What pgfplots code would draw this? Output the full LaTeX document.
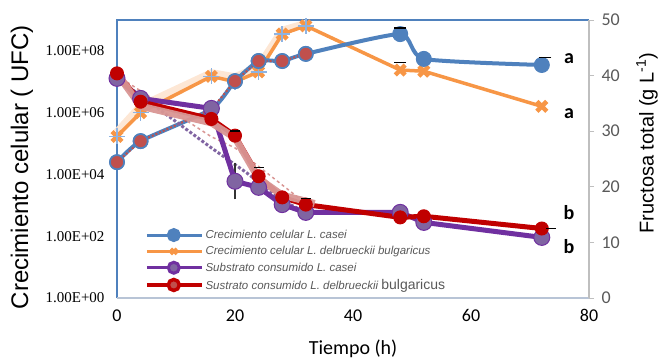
\documentclass[border=0pt]{standalone}
\usepackage{pgfplots}
\pgfplotsset{compat=1.18}
\usepackage{fontspec}
\setmainfont{Liberation Sans}
\newfontfamily\carlito{Carlito}
\newfontfamily\serifnum{Liberation Serif}
\definecolor{cblue}{HTML}{4F81BD}
\definecolor{corange}{HTML}{F79646}
\definecolor{cpurple}{HTML}{7030A0}
\definecolor{cpurplefill}{HTML}{8064A2}
\definecolor{cred}{HTML}{C00000}
\definecolor{cred2}{HTML}{C0504D}
\definecolor{cpink}{HTML}{D99694}
\definecolor{cpeach}{HTML}{FDE4D0}
\definecolor{clblue}{HTML}{8DB3E2}
\definecolor{cgray}{HTML}{595959}
\definecolor{caxisgray}{HTML}{BFBFBF}
\definecolor{cbottom}{HTML}{B8C4D6}

\pgfplotstableread{
t v
0 2.5e4
4 1.2e5
16 1.3e6
20 1.05e7
24 4.7e7
28 4.7e7
32 8e7
48 3.5e8
52 5.5e7
72 3.5e7
}\casei
\pgfplotstableread{
t v
0 2.5e4
4 1.2e5
16 1.3e6
20 1.05e7
24 4.7e7
28 4.7e7
32 8e7
}\caseiearly
\pgfplotstableread{
t v
0 1.7e5
4 1.0e6
16 1.5e7
20 1.0e7
24 2.1e7
28 3.5e8
32 6.5e8
48 2.4e7
52 2.2e7
72 1.6e6
}\bulg
\pgfplotstableread{
t v
0 1.7e5
4 1.0e6
16 1.5e7
20 1.0e7
24 2.1e7
28 3.5e8
32 6.5e8
}\bulgearly
\pgfplotstableread{
t v
0 2.3e5
4 1.6e6
16 1.9e7
20 1.4e7
24 3.0e7
28 4.5e8
32 7.5e8
}\peach
\pgfplotstableread{
t v
0 39.5
4 35.9
16 34.1
20 21.0
24 19.9
28 16.8
32 15.4
48 15.4
52 13.6
72 10.9
}\subcasei
\pgfplotstableread{
t v
0 40.4
4 35.3
16 32.2
20 29.2
24 21.9
28 18.1
32 16.8
48 14.5
52 14.7
72 12.5
}\subbulg
\pgfplotstableread{
t v
0 40.4
4 34.5
16 31.5
20 28.8
24 21.5
28 18.5
33.5 17.0
}\pinkline
\pgfplotstableread{
t v
0 39.5
9 32.5
16 27.0
22 22.5
28 17.5
32 15.4
}\purpledots
\pgfplotstableread{
t v
0 40.0
16 29.0
20 27.0
32 17.0
}\pinkdash

\begin{document}
\begin{tikzpicture}[x=1pt,y=1pt]
\useasboundingbox (0,0) rectangle (660,360);
% left axis: cell growth (log)
\begin{axis}[
  at={(117pt,62pt)}, anchor=south west,
  scale only axis, width=472pt, height=278pt,
  xmin=0, xmax=80, ymode=log, ymin=1, ymax=1e9,
  xtick={0,20,40,60,80}, xticklabels={0,20,40,60,80},
  ytick={1,1e2,1e4,1e6,1e8},
  yticklabels={1.00E+00,1.00E+02,1.00E+04,1.00E+06,1.00E+08},
  yticklabel style={font=\serifnum\fontsize{15}{15}\selectfont, anchor=east, xshift=-9pt},
  xticklabel style={font=\carlito\fontsize{18}{18}\selectfont, anchor=north, yshift=-8pt},
  axis line style={draw=none},
  major tick length=0pt,
  clip=false,
]
% frame lines
\draw[cblue, line width=1.5pt] (rel axis cs:0,0) -- (rel axis cs:0,1) -- (rel axis cs:1,1);
\draw[cbottom, line width=1.5pt] (rel axis cs:0,0) -- (rel axis cs:1,0);
% peach overlay
\addplot[cpeach, line width=8pt, opacity=0.9, forget plot] table[x=t,y=v]{\peach};
% orange series
\addplot[corange, line width=3.5pt, mark=x, mark size=7pt, mark options={line width=4.5pt}, forget plot] table[x=t,y=v]{\bulg};
\addplot[only marks, clblue, mark=+, mark size=8pt, mark options={line width=1.5pt}, forget plot] table[x=t,y=v]{\bulgearly};
% blue series
\addplot[cblue, line width=4pt, smooth, tension=0.35, mark=*, mark size=7.5pt, mark options={fill=cblue, draw=cblue, line width=1pt}, forget plot] table[x=t,y=v]{\casei};
\addplot[cred2, line width=2pt, dotted, mark=*, mark size=7pt, mark options={solid, fill=cred2, draw=cblue, line width=1.5pt}, forget plot] table[x=t,y=v]{\caseiearly};
% error caps
\addplot[only marks, black, mark=-, mark size=6pt, mark options={line width=1.6pt}, forget plot]
  coordinates {(48,5.6e8) (72.6,6.1e7) (48,4.2e7)};
\end{axis}
% right axis: substrate
\begin{axis}[
  at={(117pt,62pt)}, anchor=south west,
  scale only axis, width=472pt, height=278pt,
  xmin=0, xmax=80, ymin=0, ymax=50,
  axis x line=none,
  axis y line*=right,
  y axis line style={caxisgray, line width=1.5pt},
  ytick={0,10,20,30,40,50},
  yticklabels={0,10,20,30,40,50},
  tick align=outside,
  major tick length=5pt,
  tick style={caxisgray, line width=1pt},
  yticklabel style={font=\carlito\fontsize{18}{18}\selectfont, text=cgray, xshift=4pt},
  clip=false,
  legend image code/.code={\draw[mark repeat=2, mark phase=2, #1] plot coordinates {(0pt,0pt) (27pt,0pt) (55pt,0pt)};},
  legend style={at={(0.059,0.252)}, anchor=north west, draw=none, fill=none,
    font=\itshape\fontsize{11.5}{12}\selectfont, text=cgray, row sep=2.5pt,
    inner xsep=0pt, inner ysep=0pt},
  legend cell align=left,
]
\addlegendimage{cblue, line width=3pt, mark=*, mark size=5.5pt, mark options={fill=cblue}}
\addlegendentry{Crecimiento celular L. casei}
\addlegendimage{corange, line width=3pt, mark=x, mark size=4pt, mark options={line width=3pt}}
\addlegendentry{Crecimiento celular L. delbrueckii bulgaricus}
\addlegendimage{cpurple, line width=3pt, mark=*, mark size=5.5pt, mark options={fill=cpurplefill, draw=cpurple}}
\addlegendentry{Substrato consumido L. casei}
\addlegendimage{cred, line width=3.5pt, mark=*, mark size=5.5pt, mark options={fill=cred2, draw=cred}}
\addlegendentry{Sustrato consumido L. delbrueckii {\upshape\fontsize{14}{14}\selectfont bulgaricus}}
% overlays
\addplot[cpurplefill, line width=3pt, dotted, forget plot] table[x=t,y=v]{\purpledots};
\addplot[cpink, line width=1.5pt, dashed, forget plot] table[x=t,y=v]{\pinkdash};
% error bars
\addplot[only marks, mark=none, forget plot, error bars/.cd, y dir=both, y explicit,
  error bar style={black!80, line width=1pt}, error mark options={black!80, mark size=5pt, line width=1.6pt}]
  table[x=t,y=v,y error=e]{
t v e
20 21.0 2.35
};
% purple series
\addplot[cpurple, line width=5pt, mark=*, mark size=8pt, mark options={fill=cpurplefill, draw=cpurple, line width=1pt}, forget plot] table[x=t,y=v]{\subcasei};
% red series
\addplot[cred, line width=5pt, mark=*, mark size=6.5pt, mark options={fill=cred, draw=cred, line width=1pt}, forget plot] table[x=t,y=v]{\subbulg};
% pink overlay
\addplot[cpink, line width=7pt, opacity=0.95, forget plot] table[x=t,y=v]{\pinkline};
% error caps
\addplot[only marks, black, mark=-, mark size=5pt, mark options={line width=1.6pt}, forget plot]
  coordinates {(20,30.0) (24,23.5) (32,17.9) (73.5,12.5)};
% letters
\node[font=\carlito\bfseries\fontsize{20}{20}\selectfont] at (axis cs:76.6,43.1) {a};
\node[font=\carlito\bfseries\fontsize{20}{20}\selectfont] at (axis cs:76.6,33.2) {a};
\node[font=\carlito\bfseries\fontsize{20}{20}\selectfont] at (axis cs:76.6,15.4) {b};
\node[font=\carlito\bfseries\fontsize{20}{20}\selectfont] at (axis cs:76.6,9.2) {b};
\end{axis}
% axis titles
\node[rotate=90, font=\fontsize{24}{24}\selectfont] at (22,193) {Crecimiento celular ( UFC)};
\node[rotate=90, font=\fontsize{20}{20}\selectfont] at (647,217) {Fructosa total (g L\textsuperscript{-1})};
\node[anchor=base, font=\carlito\fontsize{20}{20}\selectfont] at (353,6) {Tiempo (h)};
\end{tikzpicture}
\end{document}
